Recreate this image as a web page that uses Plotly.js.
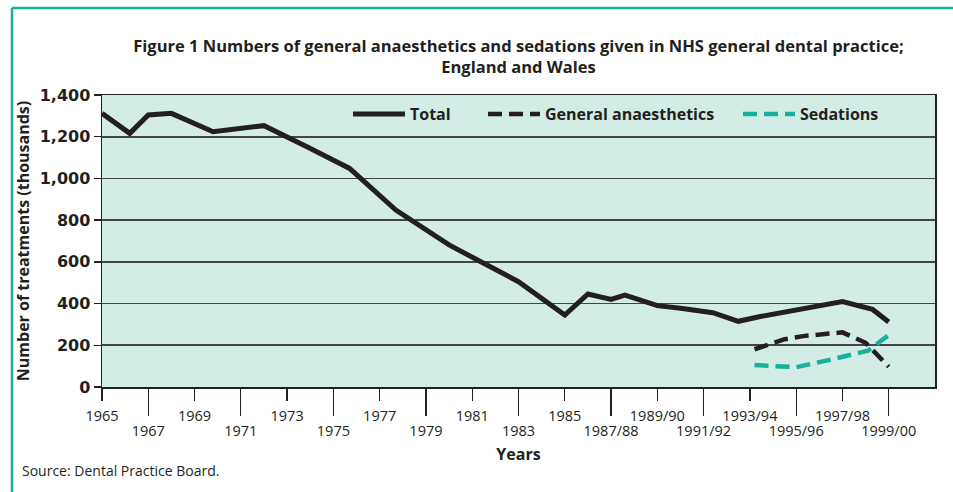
<!DOCTYPE html>
<html>
<head>
<meta charset="utf-8">
<script src="https://cdn.plot.ly/plotly-3.0.1.min.js"></script>
<style>html,body{margin:0;padding:0;background:#fff;}#chart{width:953px;height:492px;}</style>
</head>
<body>
<div id="chart"></div>
<script>
// ---- data ----
const totalYears = [1965, 1966.2, 1967, 1968, 1969.8, 1972, 1973.9, 1975.7, 1977.7, 1980, 1983, 1985, 1986, 1987, 1987.6, 1989, 1990, 1991.4, 1992.5, 1993.4, 1997, 1998.3, 1999];
const totalValues = [1312, 1216, 1304, 1312, 1224, 1253, 1150, 1048, 848, 681, 505, 345, 446, 420, 441, 390, 378, 356, 315, 337, 410, 372, 312];
const gaYears = [1993.2, 1994.5, 1995.3, 1997, 1998, 1999];
const gaValues = [181, 229, 244, 262, 212, 97];
const sedYears = [1993.2, 1995, 1996.4, 1997.2, 1998.1, 1999];
const sedValues = [105, 95, 129, 149, 174, 249];
const tickRow1Vals = [1965, 1969, 1973, 1977, 1981, 1985, 1989, 1993, 1997];
const tickRow1Text = ["1965", "1969", "1973", "1977", "1981", "1985", "1989/90", "1993/94", "1997/98"];
const tickRow2Vals = [1967, 1971, 1975, 1979, 1983, 1987, 1991, 1995, 1999];
const tickRow2Text = ["1967", "1971", "1975", "1979", "1983", "1987/88", "1991/92", "1995/96", "1999/00"];

const INK = '#231f20';
const TEAL = '#17b09c';
const FONT = 'Open Sans, Lato, sans-serif';
const WIDE = 'DejaVu Sans, Open Sans, sans-serif';

const traces = [
  {x: totalYears, y: totalValues, name: 'Total', type: 'scatter', mode: 'lines',
   line: {color: INK, width: 5}, xaxis: 'x', yaxis: 'y', legend: 'legend'},
  {x: gaYears, y: gaValues, name: 'General anaesthetics', type: 'scatter', mode: 'lines',
   line: {color: INK, width: 4.5, dash: '14px,7px'}, xaxis: 'x', yaxis: 'y', legend: 'legend2'},
  {x: sedYears, y: sedValues, name: 'Sedations', type: 'scatter', mode: 'lines',
   line: {color: TEAL, width: 4.5, dash: '14px,7px'}, xaxis: 'x2', yaxis: 'y', legend: 'legend3'}
];

const legendFont = {family: FONT, size: 16, weight: 'bold', color: INK};
function legendAt(px) {
  return {orientation: 'h', x: (px - 102) / 833, xanchor: 'left', y: 0.993, yanchor: 'top',
          bgcolor: 'rgba(0,0,0,0)', font: legendFont, itemwidth: 52};
}

const layout = {
  width: 953, height: 492,
  margin: {l: 102, r: 18, t: 95, b: 105},
  paper_bgcolor: '#ffffff',
  plot_bgcolor: '#d3ece6',
  font: {family: FONT, color: INK},
  showlegend: true,
  title: {
    text: 'Figure 1 Numbers of general anaesthetics and sedations given in NHS general dental practice;<br>England and Wales',
    font: {family: FONT, size: 16.5, weight: 'bold', color: INK},
    x: 0.5, xref: 'paper', y: 1 - 52/492, yref: 'container', yanchor: 'top'
  },
  legend: legendAt(348),
  legend2: legendAt(483),
  legend3: legendAt(738),
  xaxis: {
    range: [1965, 2001], showgrid: false, zeroline: false,
    tickmode: 'array', tickvals: tickRow1Vals, ticktext: tickRow1Text,
    ticks: 'outside', ticklen: 12, tickwidth: 1.3, tickcolor: INK,
    showline: true, linecolor: INK, linewidth: 1.5, mirror: true,
    tickfont: {family: FONT, size: 14.5, color: INK}, ticklabelstandoff: 3
  },
  xaxis2: {
    range: [1965, 2001], overlaying: 'x', anchor: 'y', side: 'bottom',
    showgrid: false, zeroline: false, showline: false,
    tickmode: 'array', tickvals: tickRow2Vals, ticktext: tickRow2Text,
    ticks: 'outside', ticklen: 28, tickwidth: 1.3, tickcolor: INK,
    tickfont: {family: FONT, size: 14.5, color: INK}, ticklabelstandoff: 3,
    title: {text: 'Years', font: {family: FONT, size: 16, weight: 'bold', color: INK}, standoff: 9}
  },
  yaxis: {
    range: [0, 1400], tickmode: 'linear', tick0: 0, dtick: 200, tickformat: ',d',
    showgrid: true, gridcolor: '#454545', gridwidth: 1.6, zeroline: false,
    ticks: 'outside', ticklen: 7, tickwidth: 1.3, tickcolor: INK,
    showline: true, linecolor: INK, linewidth: 1.5, mirror: true,
    tickfont: {family: WIDE, size: 16, weight: 'bold', color: INK},
    title: {text: 'Number of treatments (thousands)', font: {family: FONT, size: 16, weight: 'bold', color: INK}, standoff: 6}
  },
  shapes: [
    {type: 'line', xref: 'paper', yref: 'paper', x0: (12-102)/833, x1: (953-102)/833, y0: (387-8)/292, y1: (387-8)/292,
     line: {color: TEAL, width: 2.5}},
    {type: 'line', xref: 'paper', yref: 'paper', x0: (12-102)/833, x1: (12-102)/833, y0: (387-8)/292, y1: (387-495)/292,
     line: {color: TEAL, width: 2.5}}
  ],
  annotations: [
    {text: 'Source: Dental Practice Board.', xref: 'paper', yref: 'paper',
     x: (20-102)/833, y: (387-470)/292, xanchor: 'left', yanchor: 'middle', showarrow: false,
     font: {family: FONT, size: 14, color: INK}}
  ]
};

Plotly.newPlot('chart', traces, layout, {displayModeBar: false, staticPlot: true});
</script>
</body>
</html>
